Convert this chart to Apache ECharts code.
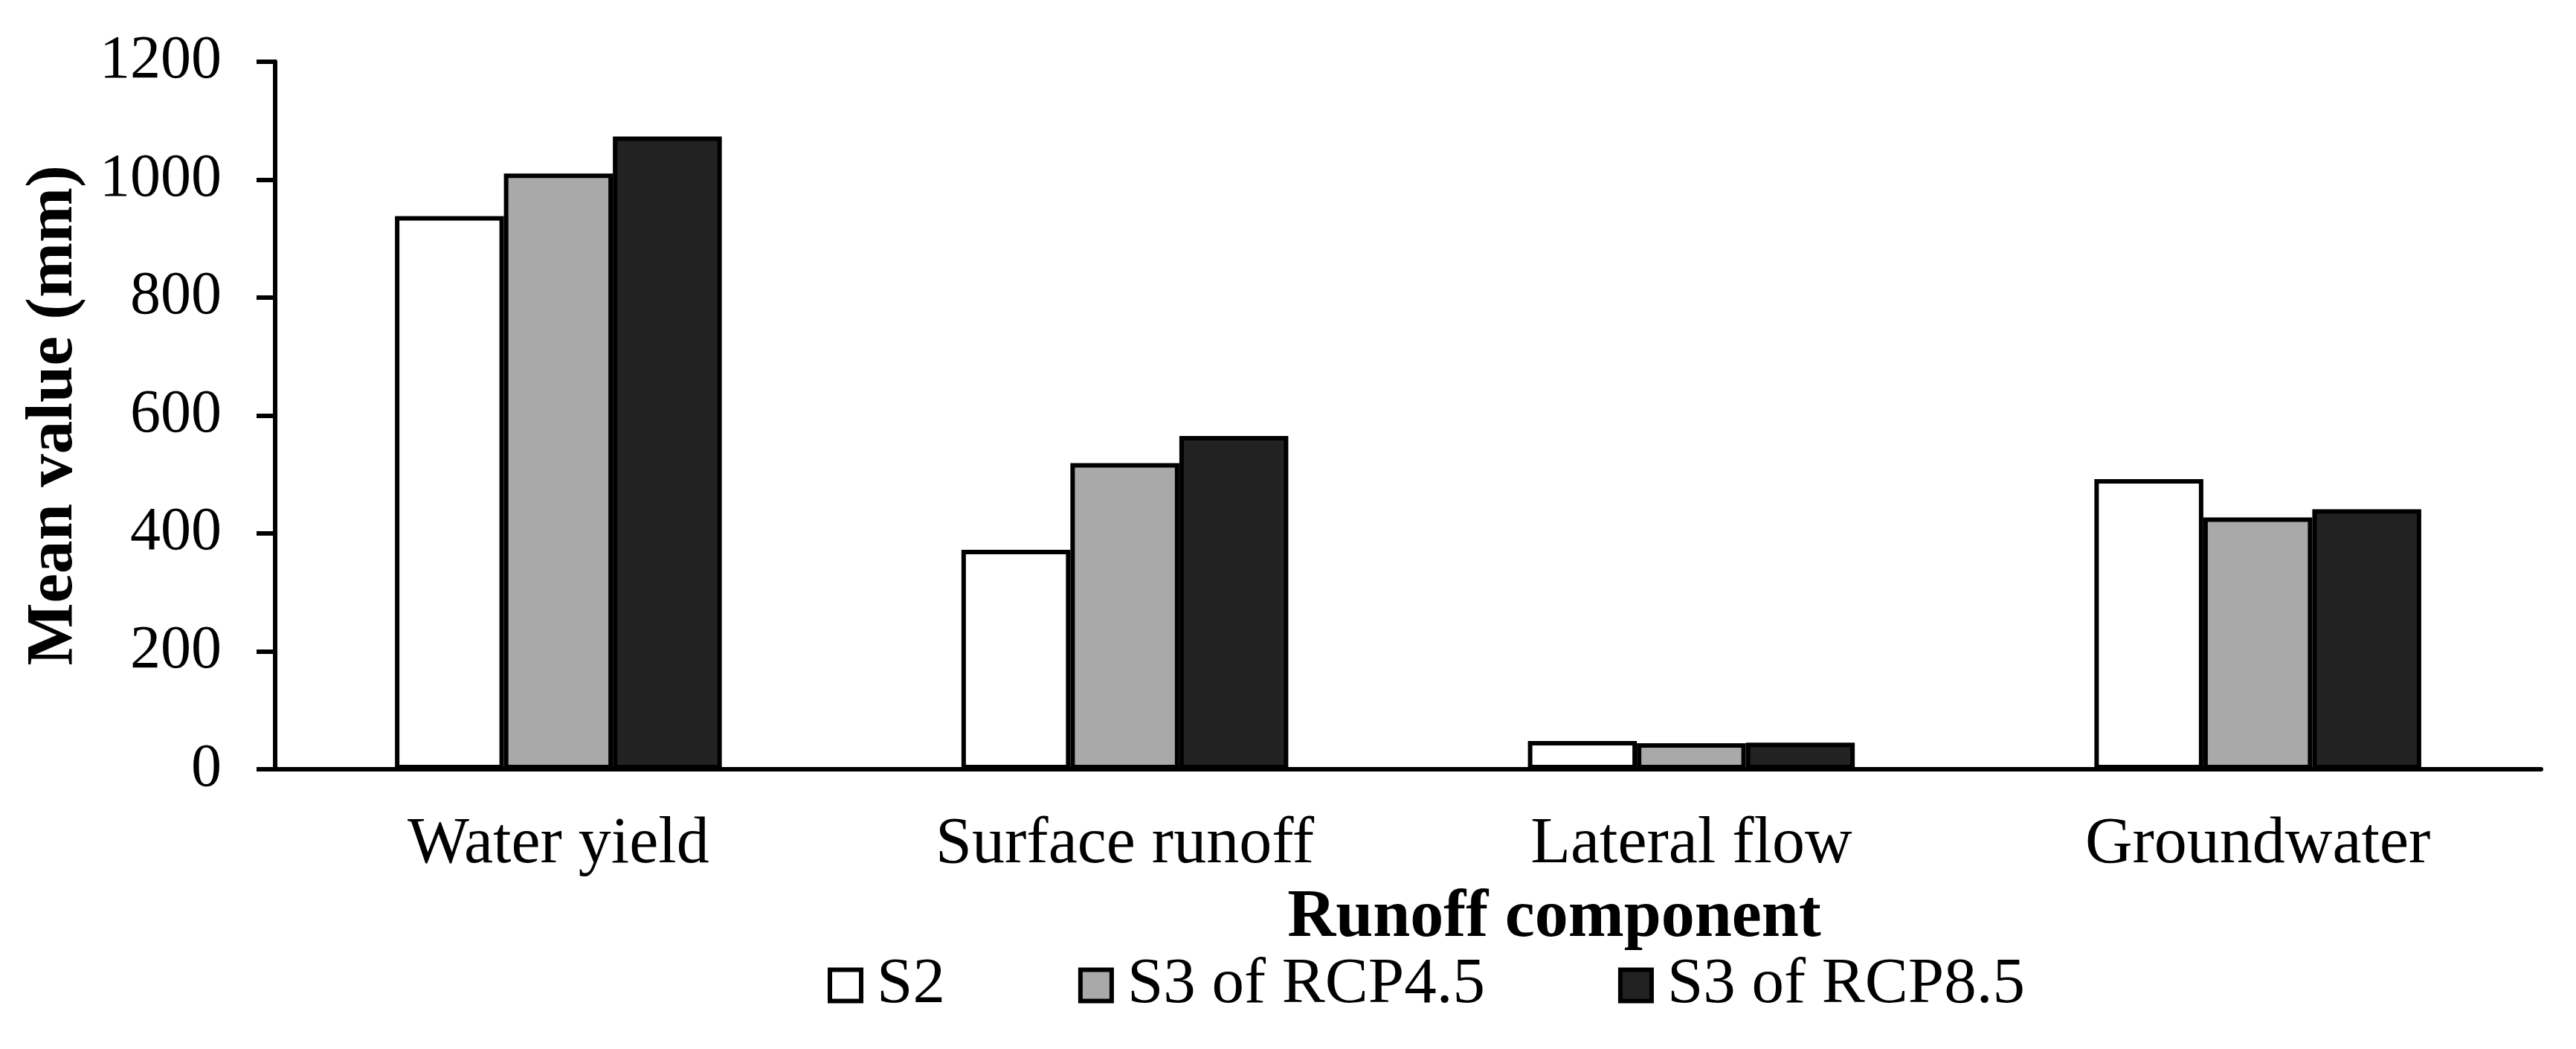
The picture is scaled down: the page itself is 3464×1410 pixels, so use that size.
<!DOCTYPE html>
<html>
<head>
<meta charset="utf-8">
<script src="https://cdn.jsdelivr.net/npm/echarts@6/dist/echarts.min.js"></script>
<style>
html,body{margin:0;padding:0;background:#fff;}
#chart{width:3464px;height:1410px;}
</style>
</head>
<body>
<div id="chart"></div>
<script>
const categories = ['Water yield', 'Surface runoff', 'Lateral flow', 'Groundwater'];
const seriesNames = ['S2', 'S3 of RCP4.5', 'S3 of RCP8.5'];
const s2Values = [938, 372, 48, 492];
const rcp45Values = [1010, 519, 44, 427];
const rcp85Values = [1073, 565, 45, 441];
const yTicks = [0, 200, 400, 600, 800, 1000, 1200];
const xAxisTitle = 'Runoff component';
const yAxisTitle = 'Mean value (mm)';

const FONT = '"Liberation Serif", "Times New Roman", serif';
const fills = ['#ffffff', '#a9a9a9', '#222222'];
const valueSets = [s2Values, rcp45Values, rcp85Values];

const chart = echarts.init(document.getElementById('chart'), null, {renderer: 'canvas'});
chart.setOption({
  animation: false,
  backgroundColor: '#ffffff',
  title: {
    text: xAxisTitle,
    left: 2090,
    top: 1190,
    textAlign: 'center',
    padding: 0,
    textStyle: {fontFamily: FONT, fontSize: 90, fontWeight: 'bold', color: '#000'}
  },
  legend: {
    data: seriesNames,
    left: 1113,
    top: 1281,
    padding: 0,
    itemWidth: 42,
    itemHeight: 42,
    itemGap: 179,
    icon: 'rect',
    itemStyle: {borderColor: '#000', borderWidth: 6},
    textStyle: {fontFamily: FONT, fontSize: 87, color: '#000', padding: [0, 0, 0, 16]}
  },
  grid: {left: 370, right: 47, top: 82.7, bottom: 376, containLabel: false},
  xAxis: {
    type: 'category',
    data: categories,
    axisLine: {lineStyle: {color: '#000', width: 6}},
    axisTick: {show: false},
    axisLabel: {fontFamily: FONT, fontSize: 88, color: '#000', margin: 58}
  },
  yAxis: {
    type: 'value',
    min: yTicks[0],
    max: yTicks[yTicks.length - 1],
    interval: yTicks[1] - yTicks[0],
    name: yAxisTitle,
    nameLocation: 'middle',
    nameGap: 252,
    nameTextStyle: {fontFamily: FONT, fontSize: 89, fontWeight: 'bold', color: '#000'},
    axisLine: {show: true, lineStyle: {color: '#000', width: 6}},
    axisTick: {show: true, length: 25, lineStyle: {color: '#000', width: 6}},
    splitLine: {show: false},
    axisLabel: {
      fontFamily: FONT, fontSize: 82, color: '#000', margin: 72,
      formatter: function (v) { return String(v); }
    }
  },
  series: seriesNames.map((name, i) => ({
    name: name,
    type: 'bar',
    data: valueSets[i],
    barGap: '0%',
    barCategoryGap: '42.3%',
    itemStyle: {color: fills[i], borderColor: '#000', borderWidth: 6}
  }))
});
</script>
</body>
</html>
